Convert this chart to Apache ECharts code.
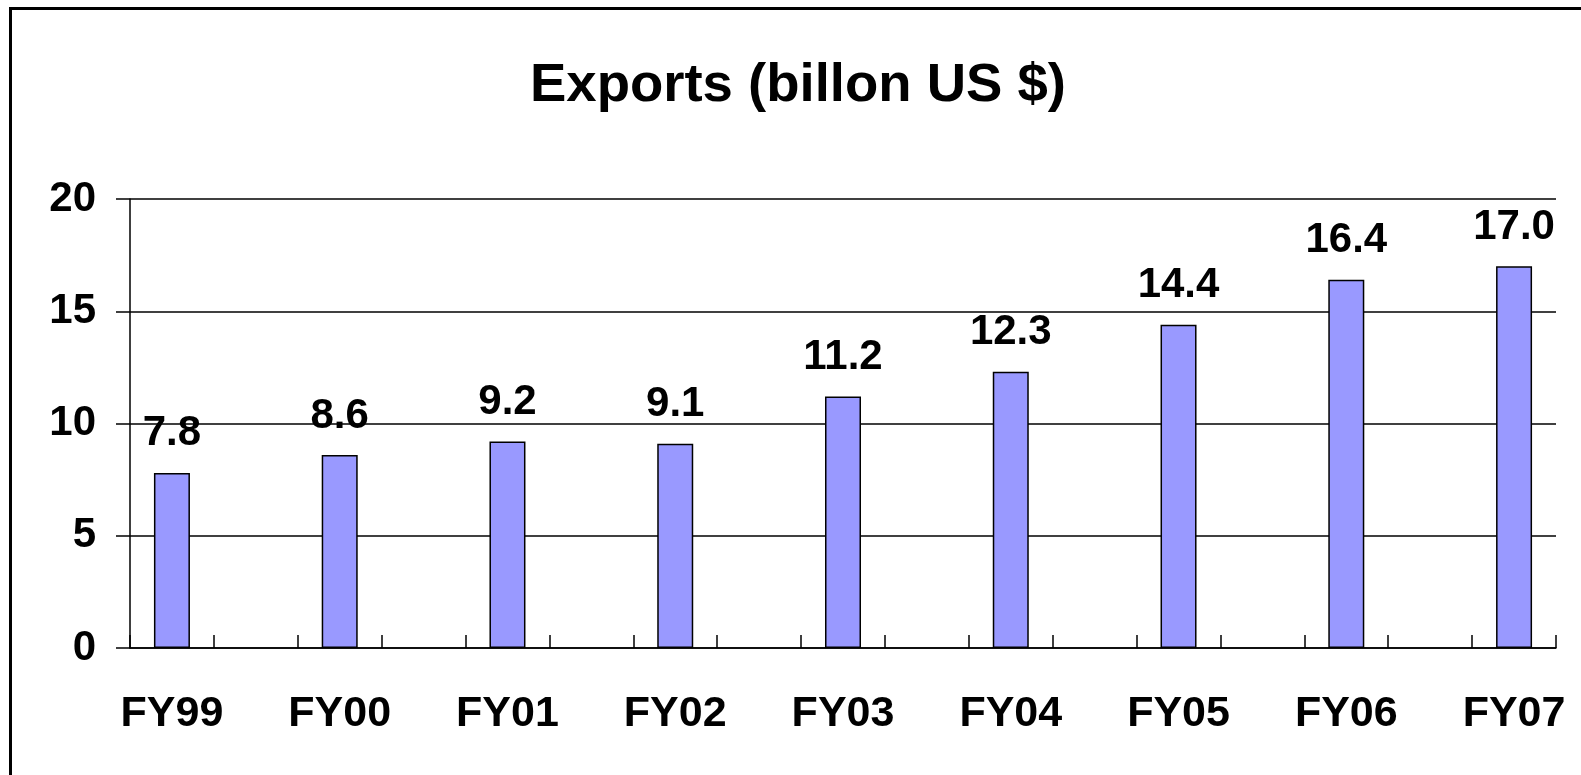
<!DOCTYPE html>
<html>
<head>
<meta charset="utf-8">
<script src="https://cdn.jsdelivr.net/npm/echarts@6/dist/echarts.min.js"></script>
<style>
  html, body { margin: 0; padding: 0; background: #fff; }
  #chart { width: 1581px; height: 775px; }
</style>
</head>
<body>
<div id="chart"></div>
<script>
const years = ['FY99', 'FY00', 'FY01', 'FY02', 'FY03', 'FY04', 'FY05', 'FY06', 'FY07']
const exports = [7.8, 8.6, 9.2, 9.1, 11.2, 12.3, 14.4, 16.4, 17.0]
const yTicks = [0, 5, 10, 15, 20]

// the original sheet has an empty category between each year
const axisCats = []
const axisData = []
years.forEach((y, i) => {
  if (i > 0) {
    axisCats.push('')
    axisData.push('-')
  }
  axisCats.push(y)
  axisData.push(exports[i])
})

const font = "'Liberation Sans', Arial, sans-serif"
const chart = echarts.init(document.getElementById('chart'))

chart.setOption({
  animation: false,
  title: {
    text: 'Exports (billon US $)',
    left: 525,
    top: 53,
    textStyle: { fontFamily: font, fontSize: 54.5, fontWeight: 'bold', color: '#000' },
  },
  graphic: [
    {
      type: 'rect',
      shape: { x: 10.5, y: 8.5, width: 3000, height: 3000 },
      style: { fill: 'none', stroke: '#000', lineWidth: 3 },
      silent: true,
    },
  ],
  grid: { left: 130, right: 25, top: 199, bottom: 127 },
  xAxis: {
    type: 'category',
    data: axisCats,
    axisLine: { lineStyle: { color: '#000', width: 1.5 } },
    axisTick: { show: true, inside: true, length: 13, interval: 0, lineStyle: { color: '#000', width: 1.5 } },
    axisLabel: {
      interval: 0,
      margin: 45,
      color: '#000',
      fontFamily: font,
      fontSize: 43,
      fontWeight: 'bold',
    },
  },
  yAxis: {
    type: 'value',
    min: yTicks[0],
    max: yTicks[yTicks.length - 1],
    interval: 5,
    axisLine: { show: true, lineStyle: { color: '#000', width: 1.5 } },
    axisTick: { show: true, length: 14, lineStyle: { color: '#000', width: 1.5 } },
    axisLabel: {
      margin: 34,
      color: '#000',
      fontFamily: font,
      fontSize: 42,
      fontWeight: 'bold',
    },
    splitLine: { show: true, lineStyle: { color: '#000', width: 1.5 } },
  },
  series: [
    {
      type: 'bar',
      data: axisData,
      barWidth: 36,
      itemStyle: { color: '#9999ff', borderColor: '#000', borderWidth: 1.5 },
      label: {
        show: true,
        position: 'top',
        distance: 18,
        formatter: (p) => p.value.toFixed(1),
        color: '#000',
        fontFamily: font,
        fontSize: 42,
        fontWeight: 'bold',
      },
    },
  ],
})
</script>
</body>
</html>
